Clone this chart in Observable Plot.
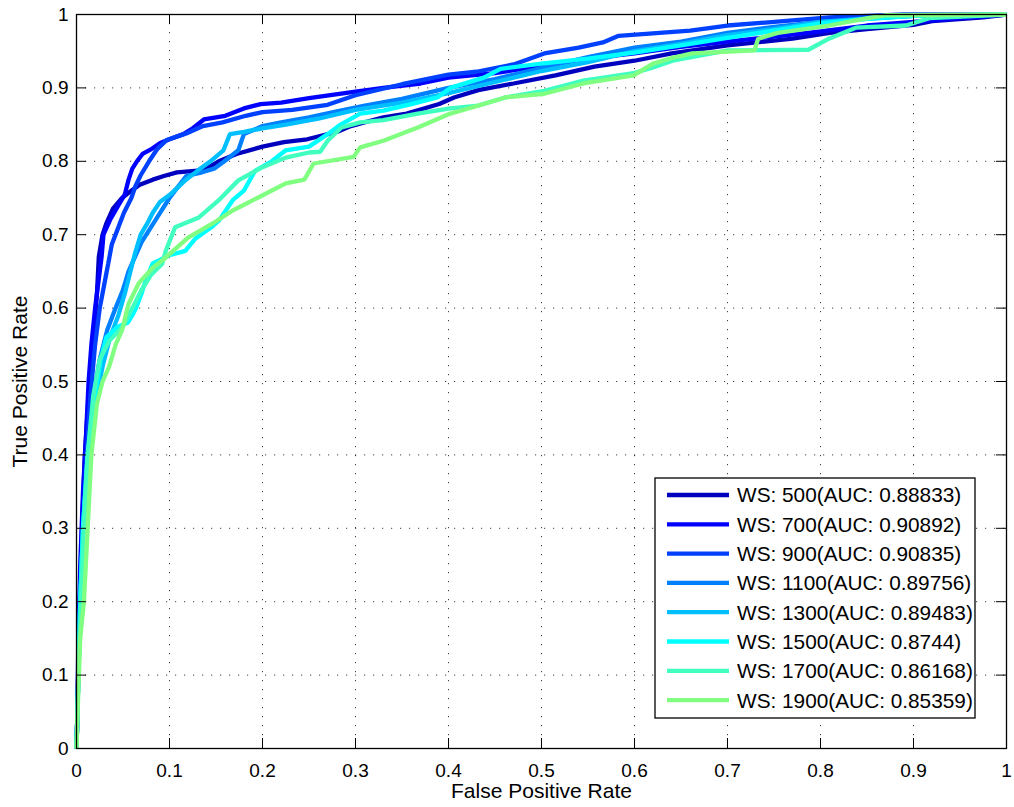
<!DOCTYPE html>
<html>
<head>
<meta charset="utf-8">
<script src="https://cdn.jsdelivr.net/npm/d3@7"></script>
<script src="https://cdn.jsdelivr.net/npm/@observablehq/plot@0.6"></script>
<style>
  html, body { margin: 0; padding: 0; background: #fff; }
  #chart svg { display: block; }
</style>
</head>
<body>
<div id="chart"></div>
<script>
// ---- Data ----
const windowSizes = [500, 700, 900, 1100, 1300, 1500, 1700, 1900];
const aucValues = ["0.88833", "0.90892", "0.90835", "0.89756", "0.89483", "0.8744", "0.86168", "0.85359"];
const seriesColors = ["#0000BF", "#0000FF", "#0040FF", "#0080FF", "#00BFFF", "#00FFFF", "#40FFBF", "#80FF80"];
const xTicks = [0, 0.1, 0.2, 0.3, 0.4, 0.5, 0.6, 0.7, 0.8, 0.9, 1];
const yTicks = [0, 0.1, 0.2, 0.3, 0.4, 0.5, 0.6, 0.7, 0.8, 0.9, 1];
const xLabel = "False Positive Rate";
const yLabel = "True Positive Rate";

// [false positive rate, true positive rate]
const roc500 = [[0,0],[0.001,0.05],[0.002,0.12],[0.004,0.2],[0.006,0.3],[0.009,0.4],[0.013,0.48],[0.016,0.52],[0.019,0.57],[0.022,0.62],[0.024,0.67],[0.028,0.7],[0.032,0.715],[0.039,0.735],[0.049,0.75],[0.06,0.761],[0.068,0.768],[0.082,0.775],[0.094,0.78],[0.108,0.785],[0.137,0.788],[0.153,0.8],[0.172,0.81],[0.2,0.82],[0.223,0.826],[0.248,0.83],[0.28,0.84],[0.295,0.848],[0.33,0.86],[0.355,0.865],[0.39,0.878],[0.406,0.887],[0.432,0.897],[0.47,0.906],[0.515,0.917],[0.557,0.929],[0.6,0.937],[0.64,0.947],[0.7,0.958],[0.77,0.967],[0.81,0.975],[0.85,0.98],[0.9,0.986],[0.92,0.991],[0.975,0.996],[1,1]];
const roc700 = [[0,0],[0.001,0.05],[0.002,0.15],[0.004,0.25],[0.007,0.35],[0.01,0.42],[0.013,0.5],[0.016,0.55],[0.02,0.6],[0.024,0.64],[0.027,0.67],[0.029,0.7],[0.036,0.72],[0.045,0.74],[0.052,0.755],[0.056,0.775],[0.06,0.79],[0.065,0.8],[0.071,0.81],[0.081,0.817],[0.09,0.825],[0.1,0.83],[0.115,0.837],[0.125,0.845],[0.137,0.857],[0.16,0.862],[0.18,0.872],[0.198,0.878],[0.22,0.88],[0.25,0.886],[0.3,0.895],[0.33,0.9],[0.37,0.906],[0.4,0.914],[0.45,0.92],[0.5,0.93],[0.55,0.94],[0.6,0.947],[0.65,0.956],[0.7,0.963],[0.75,0.97],[0.8,0.977],[0.85,0.985],[0.9,0.99],[0.95,0.995],[1,1]];
const roc900 = [[0,0],[0.002,0.1],[0.004,0.2],[0.007,0.3],[0.011,0.4],[0.015,0.48],[0.02,0.55],[0.025,0.6],[0.031,0.64],[0.034,0.66],[0.038,0.687],[0.045,0.71],[0.051,0.73],[0.059,0.75],[0.063,0.765],[0.069,0.781],[0.078,0.8],[0.087,0.817],[0.097,0.829],[0.118,0.838],[0.136,0.848],[0.157,0.853],[0.182,0.862],[0.2,0.867],[0.232,0.87],[0.27,0.877],[0.3,0.89],[0.35,0.905],[0.4,0.918],[0.43,0.922],[0.47,0.932],[0.503,0.947],[0.54,0.955],[0.566,0.962],[0.583,0.971],[0.66,0.978],[0.7,0.985],[0.77,0.992],[0.81,0.996],[0.89,1],[1,1]];
const roc1100 = [[0,0],[0.002,0.1],[0.004,0.2],[0.007,0.3],[0.012,0.4],[0.018,0.48],[0.025,0.53],[0.033,0.57],[0.042,0.6],[0.05,0.625],[0.056,0.65],[0.063,0.67],[0.07,0.69],[0.08,0.71],[0.09,0.73],[0.1,0.75],[0.106,0.76],[0.118,0.78],[0.135,0.785],[0.148,0.79],[0.159,0.8],[0.174,0.815],[0.18,0.837],[0.2,0.848],[0.22,0.853],[0.25,0.86],[0.28,0.868],[0.31,0.876],[0.35,0.885],[0.4,0.9],[0.45,0.912],[0.5,0.927],[0.55,0.942],[0.6,0.955],[0.65,0.963],[0.7,0.975],[0.75,0.983],[0.8,0.99],[0.85,0.995],[0.9,0.998],[1,1]];
const roc1300 = [[0,0],[0.002,0.1],[0.004,0.2],[0.007,0.3],[0.012,0.4],[0.02,0.47],[0.028,0.52],[0.036,0.56],[0.045,0.59],[0.052,0.62],[0.06,0.66],[0.063,0.675],[0.069,0.7],[0.076,0.715],[0.082,0.73],[0.09,0.745],[0.101,0.755],[0.116,0.773],[0.13,0.787],[0.144,0.8],[0.158,0.815],[0.165,0.837],[0.18,0.84],[0.2,0.845],[0.225,0.85],[0.26,0.858],[0.3,0.87],[0.35,0.88],[0.4,0.893],[0.45,0.908],[0.5,0.923],[0.55,0.935],[0.6,0.95],[0.65,0.96],[0.7,0.972],[0.75,0.98],[0.8,0.99],[0.85,0.994],[0.9,0.998],[1,1]];
const roc1500 = [[0,0],[0.002,0.1],[0.004,0.2],[0.007,0.3],[0.012,0.4],[0.02,0.48],[0.026,0.53],[0.032,0.56],[0.045,0.575],[0.055,0.58],[0.06,0.59],[0.064,0.6],[0.07,0.62],[0.075,0.64],[0.082,0.661],[0.1,0.672],[0.117,0.678],[0.128,0.695],[0.145,0.71],[0.153,0.719],[0.168,0.747],[0.18,0.76],[0.192,0.787],[0.21,0.8],[0.225,0.815],[0.25,0.82],[0.27,0.837],[0.284,0.85],[0.305,0.865],[0.33,0.869],[0.36,0.878],[0.388,0.887],[0.402,0.9],[0.438,0.914],[0.456,0.926],[0.5,0.933],[0.55,0.94],[0.6,0.948],[0.65,0.958],[0.7,0.968],[0.75,0.978],[0.8,0.988],[0.85,0.994],[0.9,0.998],[1,1]];
const roc1700 = [[0,0],[0.002,0.1],[0.005,0.2],[0.008,0.3],[0.012,0.4],[0.018,0.48],[0.025,0.53],[0.035,0.555],[0.05,0.575],[0.06,0.6],[0.07,0.625],[0.08,0.645],[0.092,0.66],[0.096,0.678],[0.106,0.71],[0.131,0.723],[0.153,0.747],[0.174,0.774],[0.2,0.792],[0.225,0.805],[0.25,0.812],[0.262,0.813],[0.27,0.828],[0.285,0.846],[0.305,0.853],[0.33,0.856],[0.367,0.865],[0.402,0.872],[0.432,0.876],[0.461,0.887],[0.503,0.896],[0.545,0.91],[0.599,0.92],[0.62,0.928],[0.641,0.937],[0.7,0.951],[0.787,0.952],[0.809,0.967],[0.838,0.982],[0.892,0.985],[0.917,0.995],[1,1]];
const roc1900 = [[0,0],[0.002,0.08],[0.004,0.15],[0.008,0.2],[0.012,0.3],[0.016,0.4],[0.022,0.47],[0.028,0.5],[0.035,0.52],[0.042,0.55],[0.049,0.57],[0.056,0.606],[0.067,0.634],[0.082,0.655],[0.096,0.669],[0.12,0.696],[0.146,0.715],[0.168,0.733],[0.196,0.751],[0.225,0.77],[0.245,0.775],[0.255,0.797],[0.298,0.806],[0.305,0.819],[0.33,0.828],[0.367,0.846],[0.402,0.865],[0.438,0.878],[0.461,0.887],[0.503,0.892],[0.545,0.906],[0.599,0.917],[0.62,0.933],[0.641,0.941],[0.662,0.947],[0.729,0.951],[0.733,0.967],[0.754,0.975],[0.809,0.985],[0.851,0.995],[0.871,0.999],[1,1]];

const rocCurves = [roc500, roc700, roc900, roc1100, roc1300, roc1500, roc1700, roc1900];

// ---- Build table ----
const seriesNames = windowSizes.map((ws, i) => `WS: ${ws}(AUC: ${aucValues[i]})`);
const rows = [];
rocCurves.forEach((curve, i) => {
  curve.forEach(([fpr, tpr]) => rows.push({series: seriesNames[i], fpr, tpr}));
});

// ---- Layout ----
const W = 1014, H = 807;
const mL = 76, mR = 8, mT = 14, mB = 59;
const plotW = W - mL - mR, plotH = H - mT - mB;
const tickLen = 10;
const fmt = d => String(d);
const fontFam = "'Liberation Sans', Arial, Helvetica, sans-serif";

const chart = Plot.plot({
  width: W, height: H,
  marginLeft: mL, marginRight: mR, marginTop: mT, marginBottom: mB,
  style: {fontFamily: fontFam, fontSize: "19px", background: "#fff", color: "#000", overflow: "visible"},
  x: {domain: [0, 1]},
  y: {domain: [0, 1]},
  color: {domain: seriesNames, range: seriesColors},
  marks: [
    Plot.ruleX(xTicks.slice(1, -1), {x: d => d, stroke: "#000", strokeOpacity: 0.75, strokeWidth: 1, strokeDasharray: "1.2,7.8"}),
    Plot.ruleY(yTicks.slice(1, -1), {y: d => d, stroke: "#000", strokeOpacity: 0.75, strokeWidth: 1, strokeDasharray: "1.2,7.8"}),
    Plot.line(rows, {x: "fpr", y: "tpr", z: "series", stroke: "series", strokeWidth: 4.3, strokeLinejoin: "miter", strokeLinecap: "butt"}),
    Plot.tickX(xTicks, {x: d => d, insetTop: plotH - tickLen, stroke: "#000"}),
    Plot.tickX(xTicks, {x: d => d, insetBottom: plotH - tickLen, stroke: "#000"}),
    Plot.tickY(yTicks, {y: d => d, insetRight: plotW - tickLen, stroke: "#000"}),
    Plot.tickY(yTicks, {y: d => d, insetLeft: plotW - tickLen, stroke: "#000"}),
    Plot.frame({stroke: "#000", strokeWidth: 1.3}),
    Plot.axisX(xTicks, {tickSize: 0, tickPadding: 15, tickFormat: fmt, label: null, fontSize: 19}),
    Plot.axisY(yTicks, {tickSize: 0, tickPadding: 8, tickFormat: fmt, label: null, fontSize: 19}),
    Plot.text([xLabel], {text: d => d, frameAnchor: "bottom", dy: 43, textAnchor: "middle", lineAnchor: "middle", fontSize: 21}),
    Plot.text([yLabel], {text: d => d, frameAnchor: "left", dx: -56, rotate: -90, textAnchor: "middle", lineAnchor: "middle", fontSize: 21})
  ]
});

// ---- Legend (inside the axes, lower right) ----
const svg = d3.select(chart);
const boxW = 320, boxH = 240;
const boxX = mL + plotW - 31 - boxW;
const boxY = mT + plotH - 30 - boxH;
const rowH = 29.3;
const lg = svg.append("g")
  .attr("font-family", fontFam)
  .attr("font-size", 20.8)
  .attr("text-anchor", "start");
lg.append("rect")
  .attr("x", boxX).attr("y", boxY).attr("width", boxW).attr("height", boxH)
  .attr("fill", "#fff").attr("stroke", "#000").attr("stroke-width", 1.3);
seriesNames.forEach((name, i) => {
  const cy = boxY + 17 + i * rowH;
  lg.append("line")
    .attr("x1", boxX + 12).attr("x2", boxX + 74)
    .attr("y1", cy).attr("y2", cy)
    .attr("stroke", seriesColors[i]).attr("stroke-width", 4.3);
  lg.append("text")
    .attr("x", boxX + 82).attr("y", cy).attr("dy", "0.36em")
    .attr("text-anchor", "start")
    .attr("fill", "#000")
    .text(name);
});

document.getElementById("chart").appendChild(chart);
</script>
</body>
</html>
